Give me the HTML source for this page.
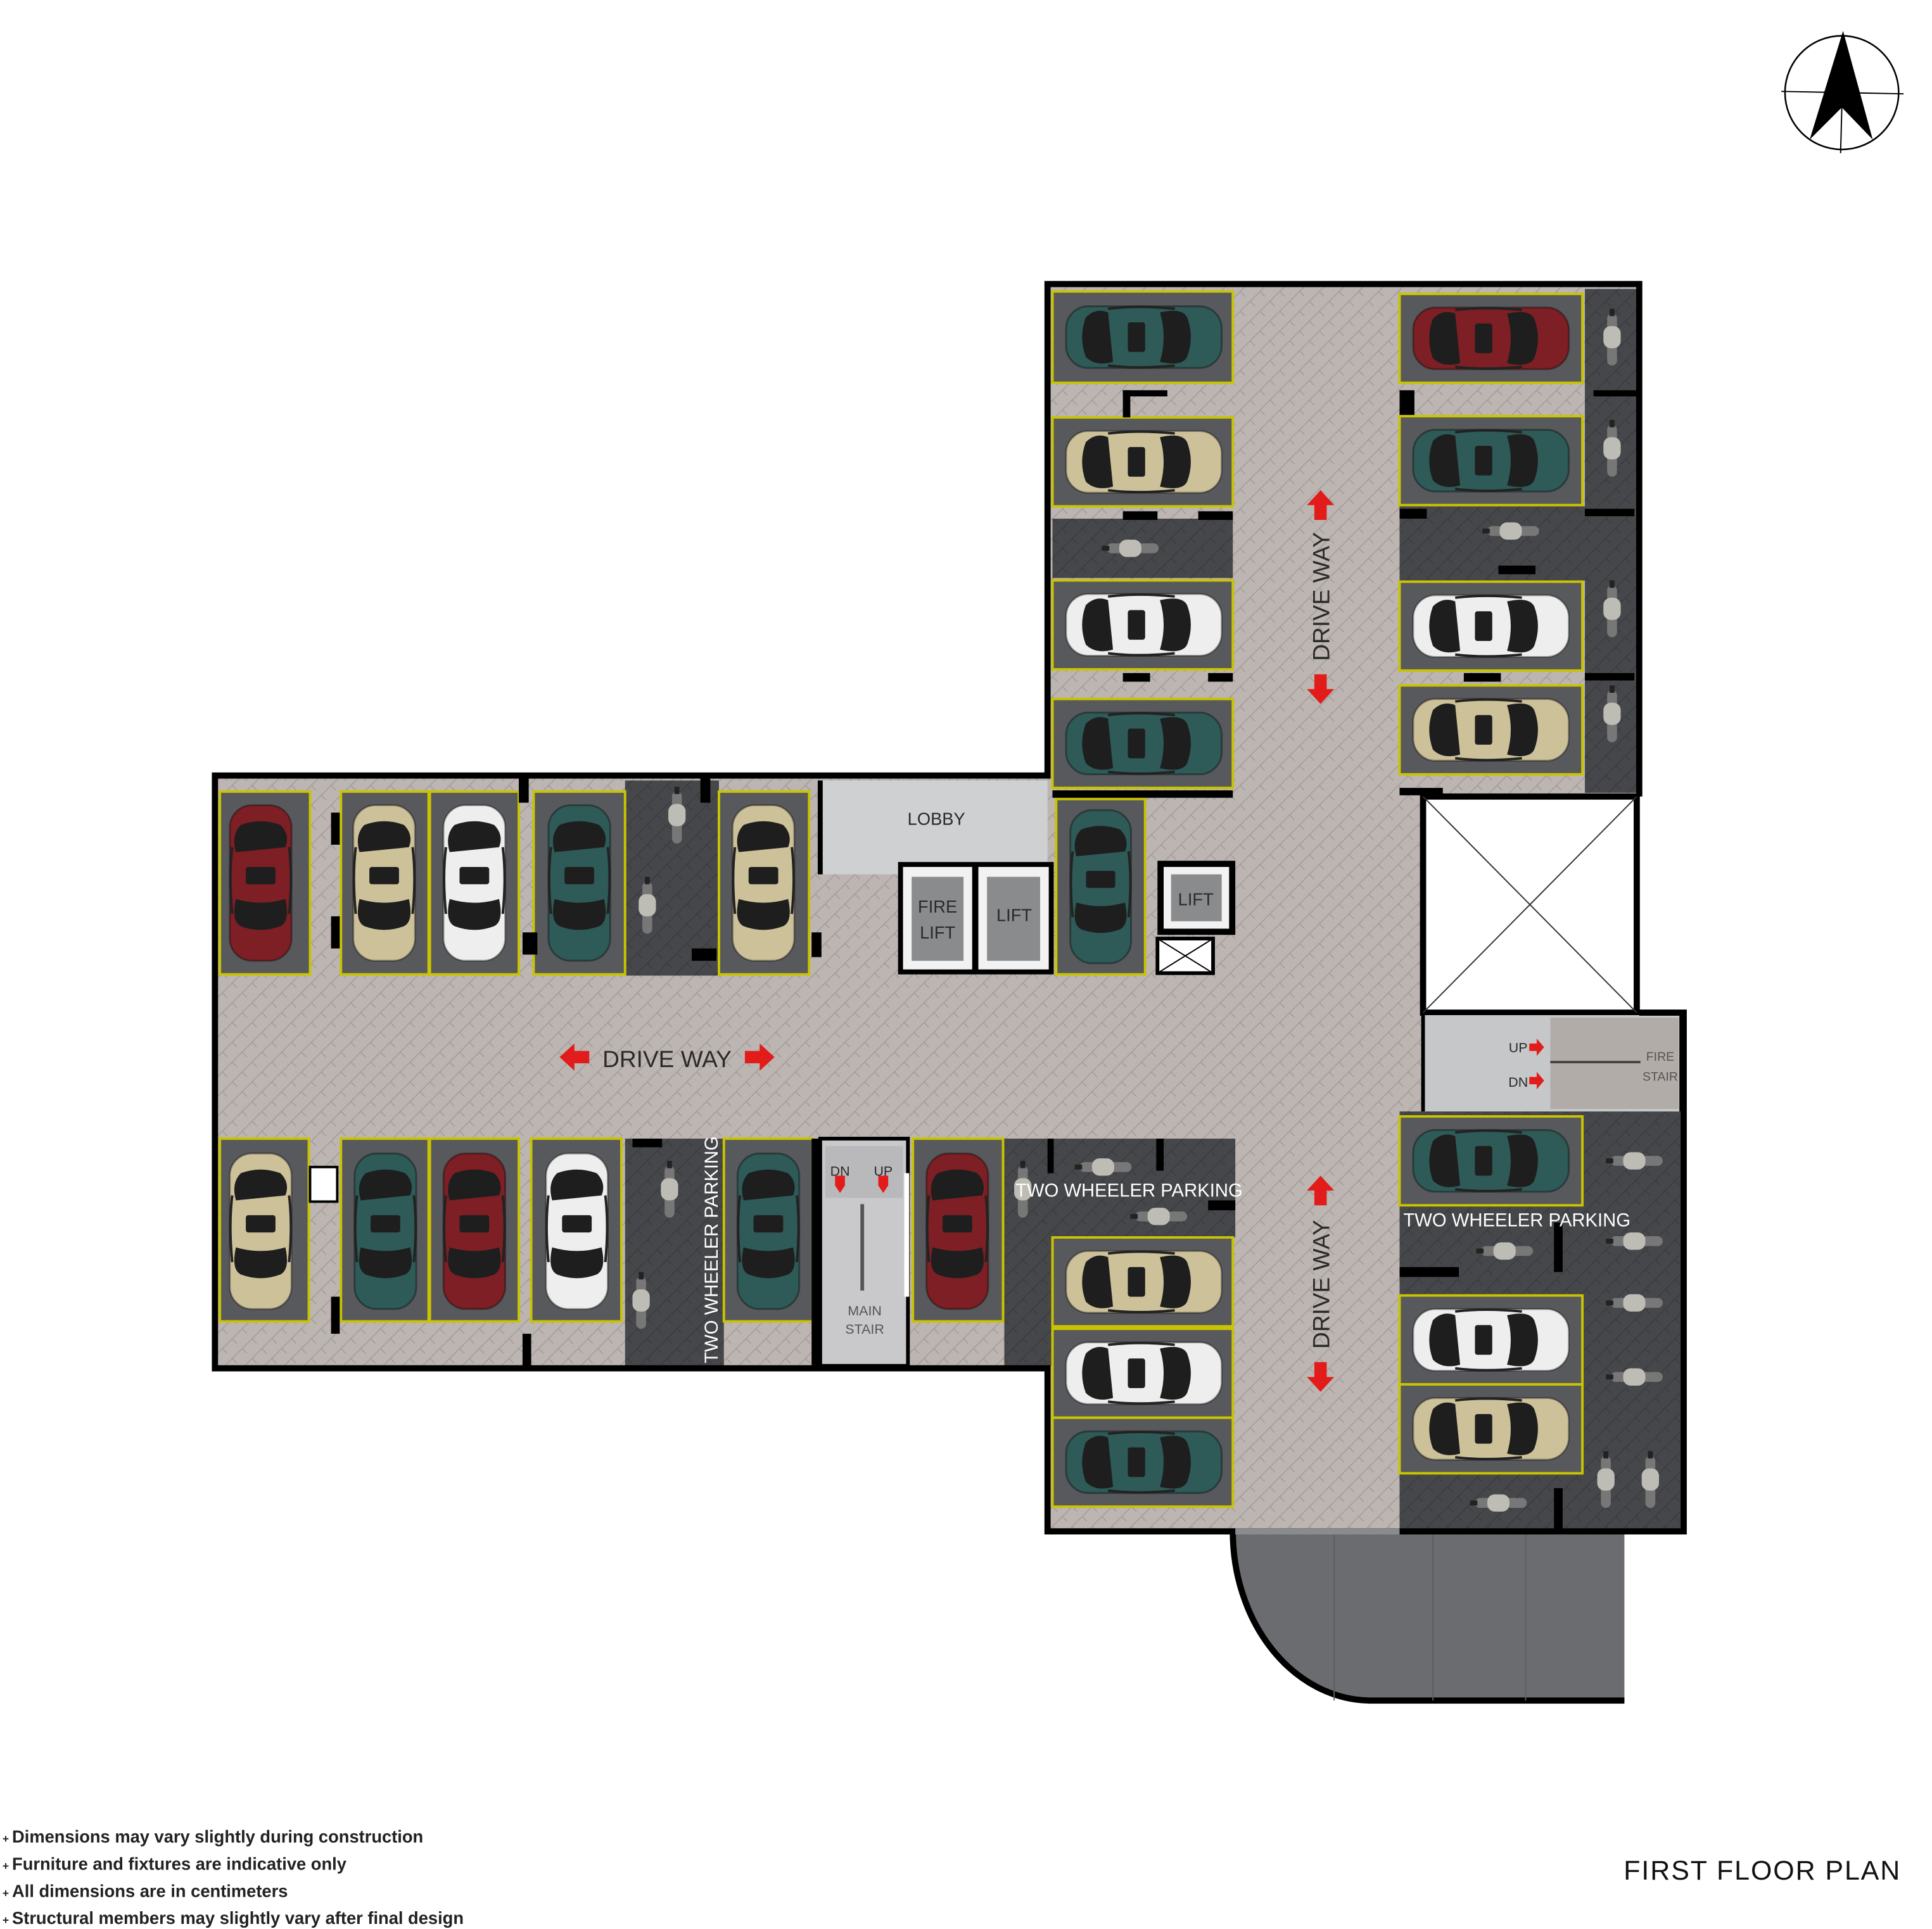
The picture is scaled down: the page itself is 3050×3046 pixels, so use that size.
<!DOCTYPE html>
<html><head><meta charset="utf-8"><style>
html,body{margin:0;padding:0;background:#fff;}
svg{display:block;}
text{font-family:"Liberation Sans",sans-serif;}
</style></head><body>
<svg width="3050" height="3046" viewBox="0 0 1564 1562" preserveAspectRatio="none" xmlns="http://www.w3.org/2000/svg">
<defs>
<pattern id="hb" width="16" height="16" patternUnits="userSpaceOnUse">
<rect width="16" height="16" fill="#bcb5b1"/>
<path d="M0,8 L8,0 M8,16 L16,8 M4,4 L8,8 M12,12 L16,16" stroke="#a29c98" stroke-width="0.8" fill="none"/>
</pattern>
<pattern id="dk" width="16" height="16" patternUnits="userSpaceOnUse">
<rect width="16" height="16" fill="#46474a"/>
<path d="M0,8 L8,0 M8,16 L16,8 M4,4 L8,8 M12,12 L16,16" stroke="#3a3b3d" stroke-width="0.8" fill="none"/>
</pattern>
<symbol id="car" viewBox="0 0 130 56">
<rect x="2" y="3" width="126" height="50" rx="18" fill="currentColor"/>
<rect x="2" y="3" width="126" height="50" rx="18" fill="none" stroke="#000" stroke-opacity=".35" stroke-width="1.5"/>
<path d="M18,12 Q26,4 36,8 L40,48 Q26,52 18,44 Q12,28 18,12Z" fill="#1e1e1e"/>
<rect x="52" y="16" width="14" height="24" rx="2" fill="#1e1e1e"/>
<path d="M78,8 Q96,4 100,12 Q106,28 100,44 Q96,52 78,48 Q84,28 78,8Z" fill="#1e1e1e"/>
<path d="M36,5 Q60,2 90,5 M36,51 Q60,54 90,51" stroke="#222" stroke-width="2" fill="none"/>
</symbol>
<symbol id="bike" viewBox="0 0 50 20">
<rect x="4" y="6" width="42" height="8" rx="4" fill="#777"/>
<rect x="14" y="3" width="18" height="14" rx="6" fill="#bdbdb5"/>
<rect x="0" y="8" width="6" height="4" fill="#222"/>
</symbol>
</defs>

<path d="M174,628 L848,628 L848,230 L1327,230 L1327,820 L1363,820 L1363,1240 L848,1240 L848,1108 L174,1108 Z" fill="url(#hb)"/>

<g fill="url(#dk)">
<rect x="852" y="420" width="146" height="48"/>
<rect x="1283" y="234" width="42" height="408"/>
<rect x="1133" y="410" width="150" height="60"/>
<rect x="506" y="632" width="76" height="158"/>
<rect x="506" y="922" width="80" height="184"/>
<rect x="813" y="922" width="187" height="80"/>
<rect x="813" y="1000" width="39" height="106"/>
<rect x="1133" y="900" width="228" height="338"/>
</g>

<g fill="#58595c" stroke="#c9c400" stroke-width="2">
<rect x="852" y="236" width="146" height="74"/><rect x="852" y="338" width="146" height="72"/>
<rect x="852" y="470" width="146" height="72"/><rect x="852" y="566" width="146" height="72"/>
<rect x="1133" y="238" width="148" height="72"/><rect x="1133" y="337" width="148" height="72"/>
<rect x="1133" y="471" width="148" height="72"/><rect x="1133" y="555" width="148" height="72"/>
<rect x="852" y="1002" width="146" height="72"/><rect x="852" y="1076" width="146" height="72"/><rect x="852" y="1148" width="146" height="72"/>
<rect x="1133" y="904" width="148" height="72"/><rect x="1133" y="1049" width="148" height="72"/><rect x="1133" y="1121" width="148" height="72"/>
<rect x="178" y="641" width="73" height="148"/><rect x="276" y="641" width="71" height="148"/><rect x="348" y="641" width="72" height="148"/>
<rect x="432" y="641" width="74" height="148"/><rect x="582" y="641" width="73" height="148"/><rect x="855" y="647" width="72" height="142"/>
<rect x="178" y="922" width="72" height="148"/><rect x="276" y="922" width="71" height="148"/><rect x="348" y="922" width="72" height="148"/>
<rect x="430" y="922" width="73" height="148"/><rect x="586" y="922" width="72" height="148"/><rect x="739" y="922" width="73" height="148"/>
</g>

<use href="#car" x="860" y="245" width="132" height="56" style="color:#2e5a57"/>
<use href="#car" x="860" y="346" width="132" height="56" style="color:#cdc19a"/>
<use href="#car" x="860" y="478" width="132" height="56" style="color:#eeeeee"/>
<use href="#car" x="860" y="574" width="132" height="56" style="color:#2e5a57"/>
<use href="#car" x="1141" y="246" width="132" height="56" style="color:#7d1f24"/>
<use href="#car" x="1141" y="345" width="132" height="56" style="color:#2e5a57"/>
<use href="#car" x="1141" y="479" width="132" height="56" style="color:#eeeeee"/>
<use href="#car" x="1141" y="563" width="132" height="56" style="color:#cdc19a"/>
<use href="#car" x="860" y="1010" width="132" height="56" style="color:#cdc19a"/>
<use href="#car" x="860" y="1084" width="132" height="56" style="color:#eeeeee"/>
<use href="#car" x="860" y="1156" width="132" height="56" style="color:#2e5a57"/>
<use href="#car" x="1141" y="912" width="132" height="56" style="color:#2e5a57"/>
<use href="#car" x="1141" y="1057" width="132" height="56" style="color:#eeeeee"/>
<use href="#car" x="1141" y="1129" width="132" height="56" style="color:#cdc19a"/>

<g transform="translate(211,715) rotate(90)"><use href="#car" x="-66" y="-28" width="132" height="56" style="color:#7d1f24"/></g>
<g transform="translate(311,715) rotate(90)"><use href="#car" x="-66" y="-28" width="132" height="56" style="color:#cdc19a"/></g>
<g transform="translate(384,715) rotate(90)"><use href="#car" x="-66" y="-28" width="132" height="56" style="color:#eeeeee"/></g>
<g transform="translate(469,715) rotate(90)"><use href="#car" x="-66" y="-28" width="132" height="56" style="color:#2e5a57"/></g>
<g transform="translate(618,715) rotate(90)"><use href="#car" x="-66" y="-28" width="132" height="56" style="color:#cdc19a"/></g>
<g transform="translate(891,718) rotate(90)"><use href="#car" x="-64" y="-28" width="128" height="56" style="color:#2e5a57"/></g>
<g transform="translate(211,997) rotate(90)"><use href="#car" x="-66" y="-28" width="132" height="56" style="color:#cdc19a"/></g>
<g transform="translate(312,997) rotate(90)"><use href="#car" x="-66" y="-28" width="132" height="56" style="color:#2e5a57"/></g>
<g transform="translate(384,997) rotate(90)"><use href="#car" x="-66" y="-28" width="132" height="56" style="color:#7d1f24"/></g>
<g transform="translate(467,997) rotate(90)"><use href="#car" x="-66" y="-28" width="132" height="56" style="color:#eeeeee"/></g>
<g transform="translate(622,997) rotate(90)"><use href="#car" x="-66" y="-28" width="132" height="56" style="color:#2e5a57"/></g>
<g transform="translate(775,997) rotate(90)"><use href="#car" x="-66" y="-28" width="132" height="56" style="color:#7d1f24"/></g>

<use href="#bike" x="892" y="434" width="50" height="20"/>
<use href="#bike" x="1200" y="420" width="50" height="20"/>
<g transform="translate(1305,275) rotate(90)"><use href="#bike" x="-25" y="-10" width="50" height="20"/></g>
<g transform="translate(1305,365) rotate(90)"><use href="#bike" x="-25" y="-10" width="50" height="20"/></g>
<g transform="translate(1305,495) rotate(90)"><use href="#bike" x="-25" y="-10" width="50" height="20"/></g>
<g transform="translate(1305,580) rotate(90)"><use href="#bike" x="-25" y="-10" width="50" height="20"/></g>
<g transform="translate(548,662) rotate(90)"><use href="#bike" x="-25" y="-10" width="50" height="20"/></g>
<g transform="translate(524,735) rotate(90)"><use href="#bike" x="-25" y="-10" width="50" height="20"/></g>
<g transform="translate(542,965) rotate(90)"><use href="#bike" x="-25" y="-10" width="50" height="20"/></g>
<g transform="translate(519,1055) rotate(90)"><use href="#bike" x="-25" y="-10" width="50" height="20"/></g>
<use href="#bike" x="870" y="935" width="50" height="20"/>
<use href="#bike" x="915" y="975" width="50" height="20"/>
<use href="#bike" x="1300" y="930" width="50" height="20"/>
<use href="#bike" x="1300" y="995" width="50" height="20"/>
<use href="#bike" x="1195" y="1003" width="50" height="20"/>
<use href="#bike" x="1300" y="1045" width="50" height="20"/>
<use href="#bike" x="1300" y="1105" width="50" height="20"/>
<use href="#bike" x="1190" y="1207" width="50" height="20"/>
<g transform="translate(1300,1200) rotate(90)"><use href="#bike" x="-25" y="-10" width="50" height="20"/></g>
<g transform="translate(1336,1200) rotate(90)"><use href="#bike" x="-25" y="-10" width="50" height="20"/></g>
<g transform="translate(828,965) rotate(90)"><use href="#bike" x="-25" y="-10" width="50" height="20"/></g>

<rect x="664" y="632" width="184" height="76" fill="#cfd0d2"/>
<line x1="664" y1="632" x2="664" y2="708" stroke="#000" stroke-width="4"/>
<rect x="727" y="698" width="126" height="91" fill="#000"/>
<rect x="731" y="702" width="56" height="83" fill="#f2f2f2"/><rect x="738" y="710" width="42" height="68" fill="#8a8b8d"/>
<rect x="792" y="702" width="57" height="83" fill="#f2f2f2"/><rect x="799" y="710" width="43" height="68" fill="#8a8b8d"/>
<rect x="937" y="697" width="63" height="60" fill="#000"/>
<rect x="942" y="702" width="53" height="50" fill="#f2f2f2"/><rect x="948" y="708" width="41" height="38" fill="#8a8b8d"/>
<rect x="937" y="760" width="45" height="28" fill="#fff" stroke="#000" stroke-width="3"/>
<path d="M937,760 L982,788 M982,760 L937,788" stroke="#000" stroke-width="1"/>

<rect x="664" y="922" width="71" height="184" fill="#c9c9cb" stroke="#000" stroke-width="3"/>
<rect x="668" y="928" width="63" height="42" fill="#b9b9bb"/>
<line x1="698" y1="975" x2="698" y2="1045" stroke="#555" stroke-width="3"/>
<path d="M676,960 l8,0 l-4,6z M711,960 l8,0 l-4,6z" fill="#e21b1b"/>
<rect x="676" y="952" width="8" height="8" fill="#e21b1b"/>
<rect x="711" y="952" width="8" height="8" fill="#e21b1b"/>
<line x1="734" y1="950" x2="734" y2="1050" stroke="#fff" stroke-width="4"/>

<rect x="1152" y="645" width="173" height="175" fill="#fff" stroke="#000" stroke-width="5"/>
<path d="M1152,645 L1325,820 M1325,645 L1152,820" stroke="#333" stroke-width="1"/>

<rect x="1152" y="822" width="209" height="78" fill="#c6c7c9"/>
<rect x="1255" y="824" width="104" height="74" fill="#b2aca8"/>
<line x1="1255" y1="860" x2="1328" y2="860" stroke="#444" stroke-width="2"/>
<line x1="1152" y1="822" x2="1152" y2="900" stroke="#000" stroke-width="3"/>
<line x1="1361" y1="818" x2="1361" y2="900" stroke="#000" stroke-width="3"/>
<path d="M1238,845 h6 v-4 l6,7 -6,7 v-4 h-6z M1238,872 h6 v-4 l6,7 -6,7 v-4 h-6z" fill="#e21b1b"/>

<path d="M998,1240 L1315,1240 L1315,1377 L1110,1377 A112,137 0 0 1 998,1240 Z" fill="#6b6c6f"/>
<path d="M998,1240 A112,137 0 0 0 1110,1377 L1315,1377" fill="none" stroke="#000" stroke-width="5"/>
<path d="M1080,1240 L1080,1377 M1160,1240 L1160,1377 M1235,1240 L1235,1377" stroke="#5d5e61" stroke-width="1"/>

<path d="M1327,645 L1327,230 L848,230 L848,628 L174,628 L174,1108 L848,1108 L848,1240 L1363,1240 L1363,820 L1327,820" fill="none" stroke="#000" stroke-width="5"/>
<line x1="1000" y1="1240" x2="1133" y2="1240" stroke="#8a8b8d" stroke-width="5"/>
<g fill="#000">
<rect x="909" y="316" width="36" height="5"/><rect x="909" y="316" width="6" height="22"/>
<rect x="909" y="414" width="28" height="7"/><rect x="970" y="414" width="28" height="7"/>
<rect x="909" y="545" width="22" height="7"/><rect x="978" y="545" width="20" height="7"/>
<rect x="852" y="640" width="146" height="6"/>
<rect x="1133" y="316" width="12" height="20"/><rect x="1290" y="316" width="35" height="5"/>
<rect x="1133" y="412" width="22" height="8"/><rect x="1213" y="458" width="30" height="7"/>
<rect x="1283" y="412" width="40" height="6"/><rect x="1185" y="545" width="30" height="7"/>
<rect x="1283" y="545" width="40" height="6"/><rect x="1133" y="638" width="35" height="6"/>
<rect x="420" y="630" width="8" height="20"/><rect x="567" y="630" width="8" height="20"/>
<rect x="268" y="658" width="7" height="26"/><rect x="268" y="742" width="7" height="26"/>
<rect x="423" y="755" width="12" height="18"/><rect x="560" y="768" width="20" height="10"/>
<rect x="657" y="755" width="8" height="20"/>
<rect x="268" y="1050" width="7" height="30"/><rect x="423" y="1080" width="7" height="26"/>
<rect x="512" y="922" width="24" height="7"/><rect x="657" y="922" width="6" height="184"/>
<rect x="848" y="922" width="5" height="28"/><rect x="936" y="922" width="6" height="26"/>
<rect x="978" y="972" width="22" height="8"/>
<rect x="1133" y="1026" width="48" height="8"/><rect x="1258" y="990" width="7" height="40"/>
<rect x="1258" y="1205" width="7" height="35"/>
</g>
<rect x="251" y="945" width="22" height="28" fill="#fff" stroke="#000" stroke-width="2"/>

<g fill="#e21b1b">
<path d="M453,856 l12,-11 v6 h12 v10 h-12 v6z"/>
<path d="M627,856 l-12,-11 v6 h-12 v10 h12 v6z"/>
<path d="M1069,397 l-11,12 h6 v12 h10 v-12 h6z"/>
<path d="M1069,570 l-11,-12 h6 v-12 h10 v12 h6z"/>
<path d="M1069,952 l-11,12 h6 v12 h10 v-12 h6z"/>
<path d="M1069,1127 l-11,-12 h6 v-12 h10 v12 h6z"/>
</g>

<g fill="#2a2a2a">
<text x="540" y="864" font-size="19" text-anchor="middle">DRIVE WAY</text>
<text transform="translate(1076,483) rotate(-90)" font-size="19" text-anchor="middle">DRIVE WAY</text>
<text transform="translate(1076,1040) rotate(-90)" font-size="19" text-anchor="middle">DRIVE WAY</text>
<text x="758" y="668" font-size="14" text-anchor="middle">LOBBY</text>
<text x="759" y="739" font-size="14" text-anchor="middle">FIRE</text>
<text x="759" y="760" font-size="14" text-anchor="middle">LIFT</text>
<text x="821" y="746" font-size="14" text-anchor="middle">LIFT</text>
<text x="968" y="733" font-size="14" text-anchor="middle">LIFT</text>
<text x="680" y="952" font-size="11" text-anchor="middle">DN</text>
<text x="715" y="952" font-size="11" text-anchor="middle">UP</text>
<text x="700" y="1065" font-size="11" text-anchor="middle" fill="#555">MAIN</text>
<text x="700" y="1080" font-size="11" text-anchor="middle" fill="#555">STAIR</text>
<text x="1229" y="852" font-size="11" text-anchor="middle">UP</text>
<text x="1229" y="880" font-size="11" text-anchor="middle">DN</text>
<text x="1344" y="859" font-size="10" text-anchor="middle" fill="#555">FIRE</text>
<text x="1344" y="875" font-size="10" text-anchor="middle" fill="#555">STAIR</text>
</g>
<g fill="#fff" font-size="15">
<text x="914" y="969" text-anchor="middle">TWO WHEELER PARKING</text>
<text x="1228" y="993" text-anchor="middle">TWO WHEELER PARKING</text>
<text transform="translate(581,1012) rotate(-90)" text-anchor="middle">TWO WHEELER PARKING</text>
</g>

<g transform="translate(1491,75)">
<circle r="46" fill="none" stroke="#000" stroke-width="1.3"/>
<line x1="-49" y1="-1" x2="50" y2="1" stroke="#000" stroke-width="1"/>
<line x1="0" y1="12" x2="-1" y2="49" stroke="#000" stroke-width="1"/>
<path d="M1,-50 L-26,38 L0,12 L25,38 Z" fill="#000"/>
</g>

<g font-size="14" font-weight="bold" fill="#222">
<text x="2" y="1492"><tspan font-size="9">+ </tspan>Dimensions may vary slightly during construction</text>
<text x="2" y="1514"><tspan font-size="9">+ </tspan>Furniture and fixtures are indicative only</text>
<text x="2" y="1536"><tspan font-size="9">+ </tspan>All dimensions are in centimeters</text>
<text x="2" y="1558"><tspan font-size="9">+ </tspan>Structural members may slightly vary after final design</text>
</g>
<text x="1539" y="1522" font-size="22" text-anchor="end" fill="#111" letter-spacing="1">FIRST FLOOR PLAN</text>
</svg>
</body></html>
